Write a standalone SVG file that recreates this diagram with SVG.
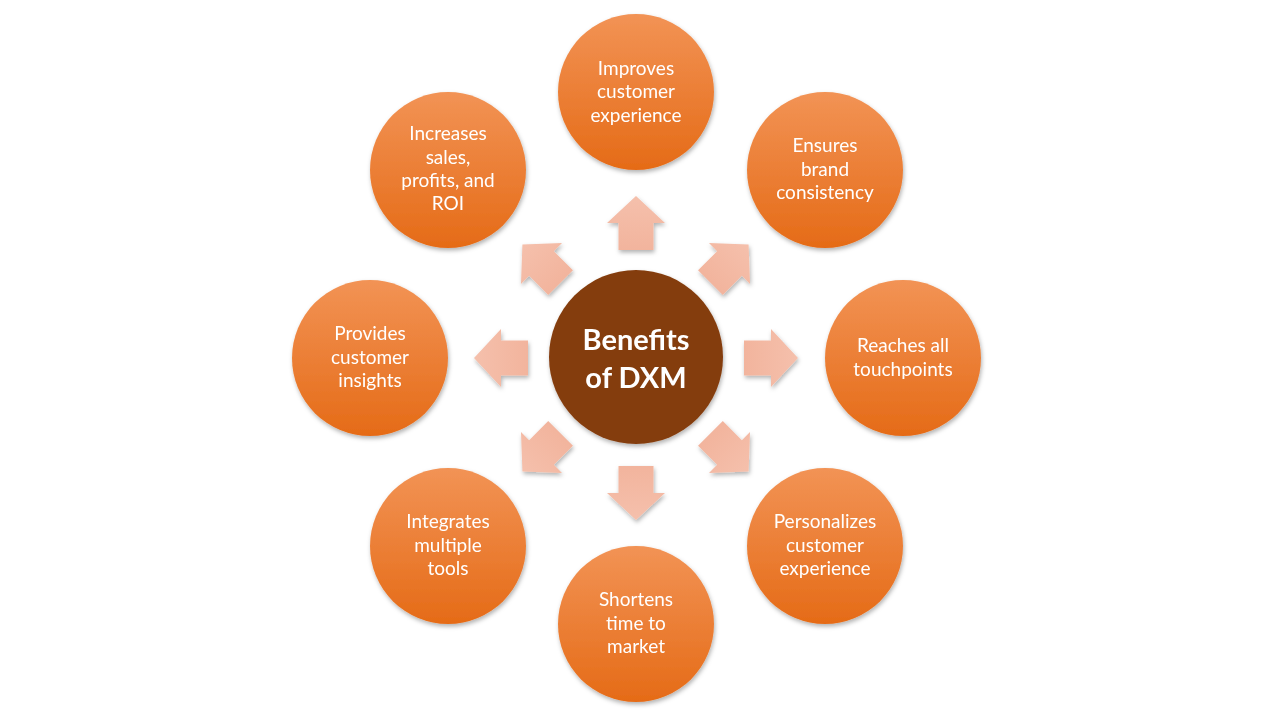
<svg xmlns="http://www.w3.org/2000/svg" width="1280" height="720" viewBox="0 0 1280 720">
<defs>
<linearGradient id="og" x1="0" y1="0" x2="0" y2="1">
<stop offset="0" stop-color="#F29355"/>
<stop offset="1" stop-color="#E56B17"/>
</linearGradient>
<linearGradient id="ag" x1="0" y1="0" x2="0" y2="1">
<stop offset="0" stop-color="#F5C0AC"/>
<stop offset="1" stop-color="#F2B49D"/>
</linearGradient>
<filter id="sh" x="-20%" y="-20%" width="140%" height="140%">
<feDropShadow dx="1" dy="2.5" stdDeviation="2" flood-color="#000" flood-opacity="0.3"/>
</filter>
<path id="arr" d="M0,-27 L29,0 L17.5,0 L17.5,27 L-17.5,27 L-17.5,0 L-29,0 Z"/>
</defs>
<style>
.outer{fill:url(#og);}
.arrow{fill:url(#ag);}
text{font-family:Lato,"Liberation Sans",sans-serif;fill:#fff;text-anchor:middle;}
.t{font-size:19px;}
.c{font-size:29px;font-weight:bold;}
</style>
<rect width="1280" height="720" fill="#fff"/>
<g id="connectors" filter="url(#sh)">
<use href="#arr" class="arrow" transform="translate(636,223)"/>
<use href="#arr" class="arrow" transform="translate(729.5,263.5) rotate(45)"/>
<use href="#arr" class="arrow" transform="translate(771,358) rotate(90)"/>
<use href="#arr" class="arrow" transform="translate(729.5,452.5) rotate(135)"/>
<use href="#arr" class="arrow" transform="translate(636,493) rotate(180)"/>
<use href="#arr" class="arrow" transform="translate(541.5,452.5) rotate(225)"/>
<use href="#arr" class="arrow" transform="translate(501,358) rotate(270)"/>
<use href="#arr" class="arrow" transform="translate(541.5,263.5) rotate(315)"/>
</g>
<g id="center" filter="url(#sh)">
<circle cx="636" cy="357" r="87" fill="#843C0C"/>
<text class="c" x="636" y="350">Benefits</text>
<text class="c" x="636" y="388">of DXM</text>
</g>
<g id="n-top" filter="url(#sh)">
<circle class="outer" cx="636" cy="92" r="78"/>
<text class="t" x="636" y="75">Improves</text>
<text class="t" x="636" y="98">customer</text>
<text class="t" x="636" y="122">experience</text>
</g>
<g id="n-topright" filter="url(#sh)">
<circle class="outer" cx="825" cy="170" r="78"/>
<text class="t" x="825" y="152">Ensures</text>
<text class="t" x="825" y="176">brand</text>
<text class="t" x="825" y="199">consistency</text>
</g>
<g id="n-right" filter="url(#sh)">
<circle class="outer" cx="903" cy="358" r="78"/>
<text class="t" x="903" y="352">Reaches all</text>
<text class="t" x="903" y="376">touchpoints</text>
</g>
<g id="n-bottomright" filter="url(#sh)">
<circle class="outer" cx="825" cy="546" r="78"/>
<text class="t" x="825" y="528">Personalizes</text>
<text class="t" x="825" y="552">customer</text>
<text class="t" x="825" y="575">experience</text>
</g>
<g id="n-bottom" filter="url(#sh)">
<circle class="outer" cx="636" cy="624" r="78"/>
<text class="t" x="636" y="606">Shortens</text>
<text class="t" x="636" y="630">time to</text>
<text class="t" x="636" y="653">market</text>
</g>
<g id="n-bottomleft" filter="url(#sh)">
<circle class="outer" cx="448" cy="546" r="78"/>
<text class="t" x="448" y="528">Integrates</text>
<text class="t" x="448" y="552">multiple</text>
<text class="t" x="448" y="575">tools</text>
</g>
<g id="n-left" filter="url(#sh)">
<circle class="outer" cx="370" cy="358" r="78"/>
<text class="t" x="370" y="340">Provides</text>
<text class="t" x="370" y="364">customer</text>
<text class="t" x="370" y="387">insights</text>
</g>
<g id="n-topleft" filter="url(#sh)">
<circle class="outer" cx="448" cy="170" r="78"/>
<text class="t" x="448" y="140">Increases</text>
<text class="t" x="448" y="164">sales,</text>
<text class="t" x="448" y="187">profits, and</text>
<text class="t" x="448" y="210">ROI</text>
</g>
</svg>
